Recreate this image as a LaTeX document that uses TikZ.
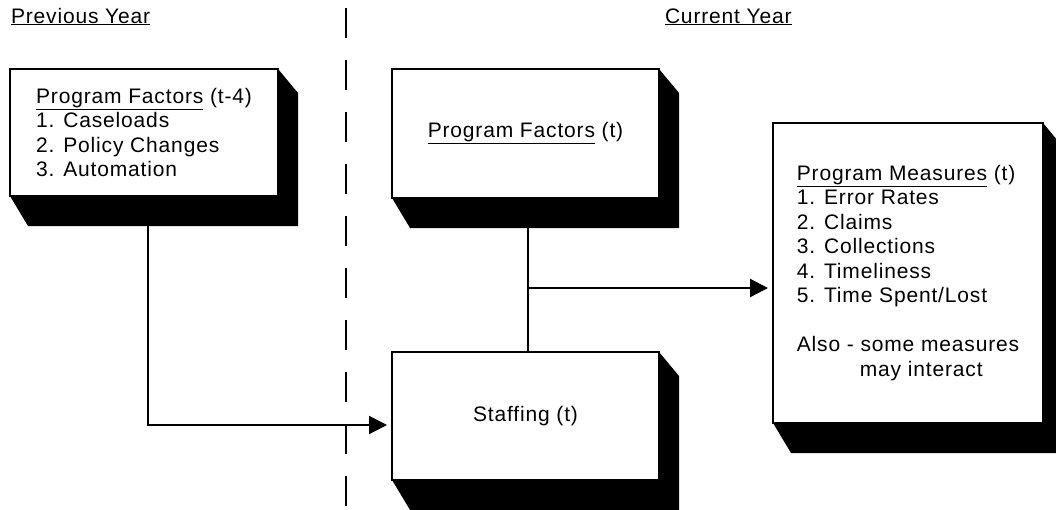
\documentclass[tikz,border=0pt]{standalone}
\usepackage{fontspec}
\setmainfont{Liberation Sans}[LetterSpace=4]
\usetikzlibrary{arrows.meta,backgrounds}
\newcommand\fs{\fontsize{21}{24.5}\selectfont}
\newcommand\boxshadow[1]{\fill (#1.north east) -- ++(20,24) -- ([shift={(20,30)}]#1.south east) -- ([shift={(18,30)}]#1.south west) -- (#1.south west) -- cycle;}
\begin{document}
\begin{tikzpicture}[x=1pt,y=-1pt,line width=2.2pt,
  box/.style={draw, fill=white, outer sep=0pt, inner sep=0pt, align=left, font=\fs},
  lbl/.style={inner sep=0pt, outer sep=0pt, font=\fs, anchor=base west},
  arr/.style={-{Triangle[length=18pt,width=18pt]}, shorten >=5pt},
  divider/.style={dash pattern=on 30pt off 22pt}]
\clip (0,0) rectangle (1056,509);
% headings
\node[lbl] (prev) at (11,23) {\underline{Previous Year}};
\node[lbl] (curr) at (665,23) {\underline{Current Year}};
% divider
\coordinate (dtop) at (346,8);
\coordinate (dbot) at (346,512);
\draw[divider] (dtop) -- (dbot);
% boxes
\node[box, minimum width=268pt, minimum height=127pt] (pf4) at (144,132.5)
  {\underline{Program Factors} (t-4)\\1. Caseloads\\2. Policy Changes\\3. Automation};
\node[box, minimum width=267pt, minimum height=129pt] (pft) at (525.5,133.5)
  {\underline{Program Factors} (t)};
\node[box, minimum width=267pt, minimum height=128pt] (st) at (525.5,416)
  {Staffing (t)};
\node[box, minimum width=270pt, minimum height=300pt] (pm) at (908,273)
  {\underline{Program Measures} (t)\\1. Error Rates\\2. Claims\\3. Collections\\4. Timeliness\\5. Time Spent/Lost\\[24.5pt]Also - some measures\\\hspace*{63pt}may interact};
\begin{scope}[on background layer]
  \boxshadow{pf4}
  \boxshadow{pft}
  \boxshadow{st}
  \boxshadow{pm}
\end{scope}
% connectors
\coordinate (a1) at ([shift={(4,30)}]pf4.south);
\coordinate (a1turn) at (148,425);
\draw[arr] (a1) -- (a1turn) -- (a1turn -| st.west);
\coordinate (a2) at ([shift={(2.5,30)}]pft.south);
\coordinate (br) at (528,288);
\draw (a2) -- (a2 |- st.north);
\draw[arr] (br) -- (br -| pm.west);
\end{tikzpicture}
\end{document}
